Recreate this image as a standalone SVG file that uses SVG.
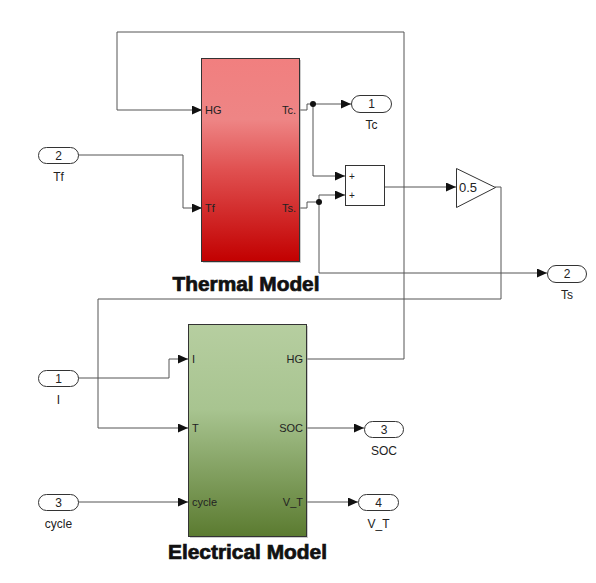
<svg xmlns="http://www.w3.org/2000/svg" width="596" height="583" viewBox="0 0 596 583">
<style>
text{font-family:"Liberation Sans",Arial,sans-serif;fill:#222}
.port{font-size:11px}
.lbl{font-size:12px;text-anchor:middle}
.num{font-size:12px;text-anchor:middle}
.io{fill:#fff;stroke:#333;stroke-width:1}
.wire{fill:none;stroke:#555;stroke-width:1}
.title{font-size:20px;font-weight:bold;text-anchor:middle;fill:#111;stroke:#111;stroke-width:0.7}
</style>
<defs>
<linearGradient id="gRed" x1="0" y1="0" x2="0" y2="1">
<stop offset="0" stop-color="#f17f7f"/>
<stop offset="0.3" stop-color="#ee8585"/>
<stop offset="0.55" stop-color="#e05050"/>
<stop offset="1" stop-color="#c20000"/>
</linearGradient>
<linearGradient id="gGreen" x1="0" y1="0" x2="0" y2="1">
<stop offset="0" stop-color="#b6cea0"/>
<stop offset="0.4" stop-color="#a8c490"/>
<stop offset="1" stop-color="#5b7b30"/>
</linearGradient>
<marker id="arr" markerUnits="userSpaceOnUse" markerWidth="10" markerHeight="9" refX="10" refY="4.5" orient="auto">
<path d="M0,0 L10,4.5 L0,9 Z" fill="#111"/>
</marker>
</defs>

<g id="connectors">
<path class="wire" d="M78,155 H183 V208 H202" marker-end="url(#arr)"/>
<path class="wire" d="M78,378 H169 V359 H188" marker-end="url(#arr)"/>
<path class="wire" d="M78,502 H188" marker-end="url(#arr)"/>
<path class="wire" d="M300,110 H307 V104 H351" marker-end="url(#arr)"/>
<path class="wire" d="M313,104 V176 H345" marker-end="url(#arr)"/>
<path class="wire" d="M300,208 H307 V202 H319"/>
<path class="wire" d="M319,202 V195 H345" marker-end="url(#arr)"/>
<path class="wire" d="M319,202 V273 H547" marker-end="url(#arr)"/>
<path class="wire" d="M384,187 H456" marker-end="url(#arr)"/>
<path class="wire" d="M495,187 H501 V299 H98 V428 H188" marker-end="url(#arr)"/>
<path class="wire" d="M307,359 H404 V32 H117 V110 H202" marker-end="url(#arr)"/>
<path class="wire" d="M307,428 H364" marker-end="url(#arr)"/>
<path class="wire" d="M307,502 H358" marker-end="url(#arr)"/>
<circle cx="313" cy="104" r="3" fill="#111"/>
<circle cx="319" cy="202" r="3" fill="#111"/>
</g>

<g id="thermal">
<rect x="203" y="60" width="98" height="203" fill="#999" opacity="0.5"/>
<rect x="201.5" y="58.5" width="98" height="203" fill="url(#gRed)" stroke="#333" stroke-width="1"/>
<text class="port" x="205" y="114">HG</text>
<text class="port" x="205" y="212">Tf</text>
<text class="port" x="296" y="114" text-anchor="end">Tc.</text>
<text class="port" x="296" y="212" text-anchor="end">Ts.</text>
<text class="title" x="246" y="291" textLength="147" lengthAdjust="spacingAndGlyphs">Thermal Model</text>
</g>

<g id="electrical">
<rect x="190" y="326" width="118" height="212" fill="#999" opacity="0.5"/>
<rect x="188.5" y="324.5" width="118" height="212" fill="url(#gGreen)" stroke="#333" stroke-width="1"/>
<text class="port" x="192" y="363">I</text>
<text class="port" x="192" y="432">T</text>
<text class="port" x="192" y="506">cycle</text>
<text class="port" x="303" y="363" text-anchor="end">HG</text>
<text class="port" x="303" y="432" text-anchor="end">SOC</text>
<text class="port" x="303" y="506" text-anchor="end">V_T</text>
<text class="title" x="247.5" y="559" textLength="159" lengthAdjust="spacingAndGlyphs">Electrical Model</text>
</g>

<g id="sum">
<rect x="345.5" y="165.5" width="39" height="40" fill="#fff" stroke="#333"/>
<text x="349" y="180" font-size="10">+</text>
<text x="349" y="199" font-size="10">+</text>
</g>

<g id="gain">
<polygon points="456.5,168.5 495.5,187.5 456.5,207.5" fill="#fff" stroke="#333"/>
<text x="459" y="192" font-size="13">0.5</text>
</g>

<g id="in_Tf">
<rect class="io" x="38.5" y="147.5" width="40" height="16" rx="8"/>
<text class="num" x="58.5" y="160">2</text>
<text class="lbl" x="58.5" y="181">Tf</text>
</g>
<g id="in_I">
<rect class="io" x="38.5" y="370.5" width="40" height="16" rx="8"/>
<text class="num" x="58.5" y="383">1</text>
<text class="lbl" x="58.5" y="404">I</text>
</g>
<g id="in_cycle">
<rect class="io" x="38.5" y="494.5" width="40" height="16" rx="8"/>
<text class="num" x="58.5" y="507">3</text>
<text class="lbl" x="58.5" y="528">cycle</text>
</g>
<g id="out_Tc">
<rect class="io" x="351.5" y="95.5" width="40" height="17" rx="8.5"/>
<text class="num" x="371.5" y="108">1</text>
<text class="lbl" x="371.5" y="129">Tc</text>
</g>
<g id="out_Ts">
<rect class="io" x="547.5" y="265.5" width="39" height="17" rx="8.5"/>
<text class="num" x="567" y="278">2</text>
<text class="lbl" x="567" y="299">Ts</text>
</g>
<g id="out_SOC">
<rect class="io" x="364.5" y="421.5" width="39" height="16" rx="8"/>
<text class="num" x="384" y="434">3</text>
<text class="lbl" x="384" y="455">SOC</text>
</g>
<g id="out_VT">
<rect class="io" x="358.5" y="494.5" width="40" height="16" rx="8"/>
<text class="num" x="378.5" y="507">4</text>
<text class="lbl" x="378.5" y="528">V_T</text>
</g>
</svg>
